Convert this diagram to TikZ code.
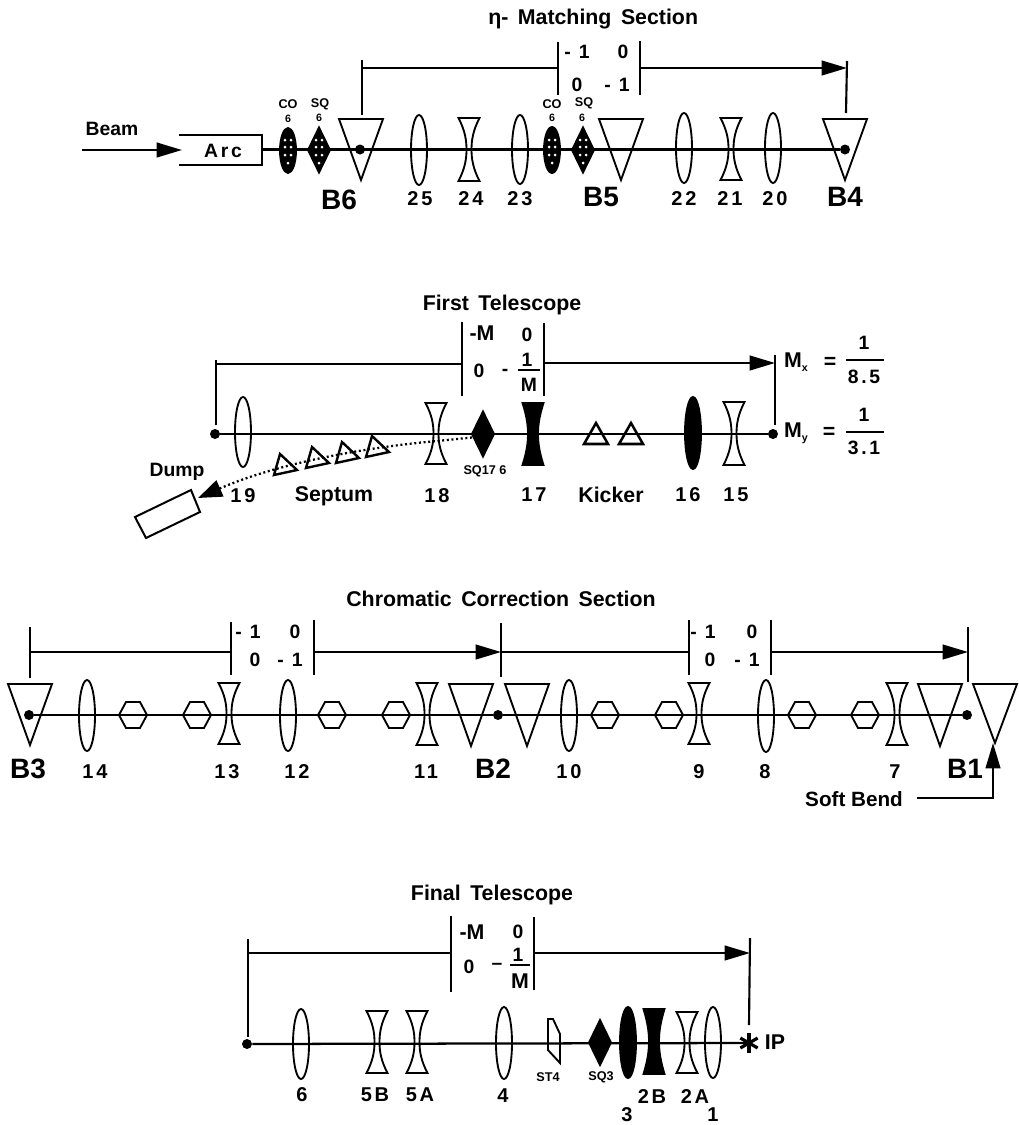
\documentclass[tikz,border=0pt]{standalone}
\usepackage{fontspec}
\setmainfont{Liberation Sans}
\newfontfamily\spfont[LetterSpace=14]{Liberation Sans}
\usetikzlibrary{arrows.meta,shapes.geometric}
\tikzset{
  line/.style={line width=1.4pt,line join=miter},
  beamline/.style={line width=1.7pt},
  bracket/.style={line width=1.6pt},
  arrowline/.style={line width=1.6pt,-{Triangle[length=19pt,width=11pt]}},
  txt/.style={font=\bfseries\fontsize{14.5}{16}\selectfont,inner sep=0pt,text=black},
  ttl/.style={font=\bfseries\fontsize{16}{18}\selectfont,inner sep=0pt,text=black},
  num/.style={font=\spfont\bfseries\fontsize{15}{16}\selectfont,inner sep=0pt},
  mat/.style={font=\spfont\bfseries\fontsize{14.5}{16}\selectfont,inner sep=0pt},
  big/.style={font=\bfseries\fontsize{21}{23}\selectfont,inner sep=0pt},
  small/.style={font=\bfseries\fontsize{9.5}{10}\selectfont,inner sep=0pt},
  tiny/.style={font=\bfseries\fontsize{8}{9}\selectfont,inner sep=0pt},
  lensopen/.style={ellipse,draw,line width=1.4pt,inner sep=0pt,minimum width=12pt},
  lensfull/.style={ellipse,draw,fill=black,line width=1.4pt,inner sep=0pt,minimum width=12pt},
  dotnode/.style={circle,fill=black,inner sep=0pt,minimum size=7.5pt},
  dotted path/.style={line width=1.7pt,dash pattern=on 1.5pt off 2pt},
}
% px geometry: y grows downward
\newcommand{\LensO}[4]{\node[lensopen,minimum height=#4*0.75pt] (#1) at (#2,#3) {};}
\newcommand{\LensF}[4]{\node[lensfull,minimum height=#4*0.75pt] (#1) at (#2,#3) {};}
\newcommand{\Hour}[6]{% name,x,y,halfheight,drawopts,waist
  \begin{scope}[shift={(#2,#3)}]
    \coordinate (#1) at (0,0);
    \draw[line,#5] (-10.5,-#4) -- (10.5,-#4) .. controls (#6+1.5,-#4*0.6) and (#6,-#4*0.3) .. (#6,0)
      .. controls (#6,#4*0.3) and (#6+1.5,#4*0.6) .. (10.5,#4) -- (-10.5,#4)
      .. controls (-#6-1.5,#4*0.6) and (-#6,#4*0.3) .. (-#6,0)
      .. controls (-#6,-#4*0.3) and (-#6-1.5,-#4*0.6) .. cycle;
  \end{scope}}
\newcommand{\Bend}[4]{% name,x,top,apex
  \coordinate (#1) at (#2,#3);
  \draw[line] (#2-22,#3) -- (#2+22,#3) -- (#2,#4) -- cycle;}
\newcommand{\Dia}[4]{% name,x,y,drawopts
  \begin{scope}[shift={(#2,#3)}]
    \coordinate (#1) at (0,0);
    \draw[line,#4] (-11,0) -- (0,-22.5) -- (11,0) -- (0,22.5) -- cycle;
  \end{scope}}
\newcommand{\Hex}[3]{% name,x,y
  \begin{scope}[shift={(#2,#3)}]
    \coordinate (#1) at (0,0);
    \draw[line] (-14,0) -- (-7,-13) -- (7,-13) -- (14,0) -- (7,13) -- (-7,13) -- cycle;
  \end{scope}}
\newcommand{\WDots}[2]{% white dots across a sextupole
  \foreach \dx/\dy in {-3/-10,3/-10,-3/-3,3/-3,-3/5,3/5,0/13}
    {\fill[white] (#1+\dx,#2+\dy) circle[radius=1.5];}}
\newcommand{\Tri}[3]{% septum triangle
  \begin{scope}[shift={(#2,#3)}]
    \coordinate (#1) at (0,0);
    \draw[line,line width=1.8pt] (-11,10) -- (12,5) -- (-5,-11) -- cycle;
  \end{scope}}
\newcommand{\Kick}[3]{%
  \coordinate (#1) at (#2,#3);
  \draw[line,line width=1.9pt] (#2-12,#3+10) -- (#2+12,#3+10) -- (#2,#3-11) -- cycle;}
\begin{document}
\begin{tikzpicture}[x=0.75pt,y=-0.75pt]
\useasboundingbox (0,0) rectangle (1018,1125);

%%% Section 1
\node[ttl,anchor=west] (t1) at (488,19) {η- \,Matching \,Section};
\node[txt] (beamlab) at (112,129) {Beam};
\coordinate (bs) at (82,150);
\coordinate (arcTip) at (182,150);
\draw[arrowline] (bs) -- (arcTip);
\coordinate (arcTL) at (179,135);
\coordinate (arcTR) at (262,135);
\coordinate (arcBR) at (262,165);
\coordinate (arcBL) at (179,165);
\coordinate (arcE) at (262,149.5);
\draw[line,line width=1.5pt] (arcTL) -- (arcTR) -- (arcBR) -- (arcBL);
\node[mat] (arc) at (223,151) {Arc};
\node[dotnode] (b6d) at (360,149.5) {};
\node[dotnode] (b4d) at (845,149.5) {};
\draw[beamline] (arcE) -- (b4d);
\Bend{b6}{361}{119}{180}
\Bend{b5}{621}{119}{180}
\Bend{b4}{845}{119}{180}
\LensF{co1}{288}{150.5}{45}
\WDots{288}{150}
\Dia{sq1}{319}{150}{fill=black}
\WDots{319}{150}
\LensF{co2}{552}{150}{46}
\WDots{552}{150}
\Dia{sq2}{583}{150}{fill=black}
\WDots{583}{150}
\LensO{q25}{419}{150}{70}
\Hour{q24}{469}{149.5}{31.5}{}{2.5}
\LensO{q23}{520}{149.5}{69}
\LensO{q22}{684}{148}{70}
\Hour{q21}{731}{149}{31}{}{2.5}
\LensO{q20}{773}{148}{70}
\node[small] (co1t) at (288,104) {CO};
\node[tiny] (co1n) at (288,119) {6};
\node[small] (sq1t) at (320,104) {SQ};
\node[tiny] (sq1n) at (319,118) {6};
\node[small] (co2t) at (552,104) {CO};
\node[tiny] (co2n) at (552,118) {6};
\node[small] (sq2t) at (584,103) {SQ};
\node[tiny] (sq2n) at (582,118) {6};
\coordinate (a1) at (362,115);
\coordinate (a2) at (362,60);
\coordinate (a2m) at (362,68);
\coordinate (a3) at (558,68);
\draw[bracket] (a1) -- (a2);
\draw[bracket] (a2m) -- (a3);
\coordinate (a4) at (558,42);
\coordinate (a5) at (558,95);
\coordinate (a6) at (640,41);
\coordinate (a7) at (640,95);
\draw[bracket] (a4) -- (a5);
\draw[bracket] (a6) -- (a7);
\coordinate (a8) at (640,68);
\coordinate (a9) at (847,68);
\coordinate (a10) at (847,61);
\coordinate (a11) at (846,113);
\draw[arrowline] (a8) -- (a9);
\draw[bracket] (a10) -- (a11);
\node[mat] at (577,52) {- 1};
\node[mat] at (623,52) {0};
\node[mat] at (577,85) {0};
\node[mat] at (617,85) {- 1};
\node[big] at (339,200) {B6};
\node[big] at (601,197) {B5};
\node[big] at (845,197) {B4};
\node[num] at (420,199) {25};
\node[num] at (471,199) {24};
\node[num] at (520,199) {23};
\node[num] at (684,199) {22};
\node[num] at (730,199) {21};
\node[num] at (775,199) {20};

%%% Section 2
\node[ttl] (t2) at (502,305) {First \,Telescope};
\node[dotnode] (d2L) at (215,434) {};
\node[dotnode] (d2R) at (773,434) {};
\draw[beamline] (d2L) -- (d2R);
\LensO{q19}{243}{432}{70}
\Hour{q18}{436}{433.5}{30.5}{}{2.5}
\Dia{sq176}{483}{434}{fill=black}
\Hour{q17}{533}{434}{31}{fill=black}{5}
\Kick{k1}{596}{434}
\Kick{k2}{631}{434}
\LensF{q16}{693}{433}{72}
\Hour{q15}{734}{433.5}{31.5}{}{2.5}
\Tri{s1}{285}{465}
\Tri{s2}{317}{458}
\Tri{s3}{347}{453}
\Tri{s4}{377}{447}
\coordinate (dStart) at (472,437.5);
\coordinate (dMid) at (437,441);
\coordinate (dTip) at (198,498);
\draw[dotted path,-{Triangle[length=18pt,width=13pt]}] (dStart) -- (dMid) .. controls (380,446) and (285,460) .. (dTip);
\coordinate (du1) at (135,517);
\coordinate (du2) at (191,490);
\coordinate (du3) at (200,512);
\coordinate (du4) at (146,538);
\draw[line,line width=1.5pt] (du1) -- (du2) -- (du3) -- (du4) -- cycle;
\coordinate (b1) at (216,425);
\coordinate (b2) at (216,360);
\coordinate (b2m) at (216,364);
\coordinate (b3) at (462,364);
\draw[bracket] (b1) -- (b2);
\draw[bracket] (b2m) -- (b3);
\coordinate (b4) at (462,322);
\coordinate (b5) at (462,396);
\coordinate (b6x) at (544,323);
\coordinate (b7) at (544,396);
\draw[bracket] (b4) -- (b5);
\draw[bracket] (b6x) -- (b7);
\coordinate (b8) at (544,363);
\coordinate (b9) at (775,363);
\coordinate (b10) at (775,355);
\coordinate (b11) at (775,425);
\draw[arrowline] (b8) -- (b9);
\draw[bracket] (b10) -- (b11);
\node[ttl] at (482,333) {-M};
\node[txt] at (527,335) {0};
\node[txt] at (479,371) {0};
\node[txt] at (505,372) {-};
\node[txt] (f1n) at (527,360) {1};
\coordinate (f1a) at (518,370);
\coordinate (f1b) at (540,370);
\draw[line,line width=1.2pt] (f1a) -- (f1b);
\node[txt] (f1d) at (529,385) {M};
\node[ttl] at (796,362) {M\raisebox{-3pt}{\fontsize{8}{9}\selectfont x}};
\node[ttl] at (830,363) {=};
\node[txt] at (864,343) {1};
\coordinate (f2a) at (846,360);
\coordinate (f2b) at (884,360);
\draw[line,line width=1.2pt] (f2a) -- (f2b);
\node[mat] at (864,377) {8.5};
\node[ttl] at (796,433) {M\raisebox{-3pt}{\fontsize{8}{9}\selectfont y}};
\node[ttl] at (829,433) {=};
\node[txt] at (864,415) {1};
\coordinate (f3a) at (846,432);
\coordinate (f3b) at (884,432);
\draw[line,line width=1.2pt] (f3a) -- (f3b);
\node[mat] at (864,448) {3.1};
\node[txt] at (177,472) {Dump};
\node[num] at (243,496) {19};
\node[ttl] at (334,496) {Septum};
\node[num] at (437,496) {18};
\node[small] at (485,471) {SQ17 6};
\node[num] at (534,495) {17};
\node[ttl] at (611,495) {Kicker};
\node[num] at (688,495) {16};
\node[num] at (736,495) {15};

%%% Section 3
\node[ttl] (t3) at (501,599) {Chromatic \,Correction \,Section};
\node[dotnode] (d3L) at (29,715) {};
\node[dotnode] (d3M) at (498,715) {};
\node[dotnode] (d3R) at (967,715) {};
\draw[beamline] (d3L) -- (d3M);
\draw[beamline] (d3M) -- (d3R);
\Bend{b3}{30}{684}{745}
\Bend{b3r}{471}{684}{746}
\Bend{b2l}{527}{684}{746}
\Bend{b1l}{940}{684}{746}
\Bend{soft}{995}{684}{743}
\LensO{q14}{87}{715.5}{71}
\LensO{q12}{288}{715.5}{71}
\LensO{q10}{569}{715.5}{71}
\LensO{q8}{766}{716}{72}
\Hour{q13}{229}{713.5}{30.5}{}{2.5}
\Hour{q11}{427}{714}{31}{}{2.5}
\Hour{q9}{699}{713.5}{30.5}{}{2.5}
\Hour{q7}{897}{714}{31}{}{2.5}
\Hex{h1}{133}{715}
\Hex{h2}{197}{715}
\Hex{h3}{332}{715}
\Hex{h4}{396}{715}
\Hex{h5}{605}{715}
\Hex{h6}{669}{715}
\Hex{h7}{802}{715}
\Hex{h8}{865}{715}
\coordinate (c1) at (30,627);
\coordinate (c2) at (30,678);
\coordinate (c2m) at (30,652);
\coordinate (c3) at (231,652);
\draw[bracket] (c1) -- (c2);
\draw[bracket] (c2m) -- (c3);
\coordinate (c4) at (231,622);
\coordinate (c5) at (231,675);
\coordinate (c6) at (314,620);
\coordinate (c7) at (314,675);
\draw[bracket] (c4) -- (c5);
\draw[bracket] (c6) -- (c7);
\coordinate (c8) at (314,652);
\coordinate (c9) at (501,652);
\draw[arrowline] (c8) -- (c9);
\coordinate (c10) at (501,623);
\coordinate (c11) at (501,677);
\draw[bracket] (c10) -- (c11);
\coordinate (c12) at (689,652);
\draw[bracket] (c9) -- (c12);
\coordinate (c13) at (689,620);
\coordinate (c14) at (689,675);
\coordinate (c15) at (771,620);
\coordinate (c16) at (771,675);
\draw[bracket] (c13) -- (c14);
\draw[bracket] (c15) -- (c16);
\coordinate (c17) at (771,652);
\coordinate (c18) at (968,652);
\draw[arrowline] (c17) -- (c18);
\coordinate (c19) at (968,627);
\coordinate (c20) at (968,682);
\draw[bracket] (c19) -- (c20);
\coordinate (sb1) at (917,798);
\coordinate (sb2) at (993,798);
\coordinate (sb3) at (993,743);
\draw[line width=1.6pt,-{Triangle[length=19pt,width=11pt]}] (sb1) -- (sb2) -- (sb3);
\node[ttl,font=\bfseries\fontsize{15.5}{17}\selectfont] at (854,799) {Soft Bend};
\node[mat] at (248,632) {- 1};
\node[mat] at (295,632) {0};
\node[mat] at (255,660) {0};
\node[mat] at (290,660) {- 1};
\node[mat] at (703,632) {- 1};
\node[mat] at (752,632) {0};
\node[mat] at (710,660) {0};
\node[mat] at (747,660) {- 1};
\node[big] at (28,769) {B3};
\node[big] at (493,769) {B2};
\node[big] at (965,769) {B1};
\node[num] at (95,772) {14};
\node[num] at (227,772) {13};
\node[num] at (297,772) {12};
\node[num] at (426,772) {11};
\node[num] at (569,772) {10};
\node[num] at (699,772) {9};
\node[num] at (765,772) {8};
\node[num] at (895,772) {7};

%%% Section 4
\node[ttl] (t4) at (492,895) {Final \,Telescope};
\node[dotnode] (d4L) at (247,1044) {};
\coordinate (ip) at (749,1043);
\draw[beamline] (d4L) -- (ip);
\foreach \ang in {90,30,150}
  {\draw[line width=2.4pt] ([shift={(\ang:10)}]ip) -- ([shift={(\ang+180:10)}]ip);}
\LensO{q6}{301}{1044}{70}
\Hour{q5b}{377}{1042}{31}{}{2.5}
\Hour{q5a}{417}{1042}{31}{}{2.5}
\LensO{q4}{504}{1043}{72}
\coordinate (st1) at (548,1019);
\coordinate (st2) at (553,1019);
\coordinate (st3) at (560,1034);
\coordinate (st4) at (560,1063);
\coordinate (st5) at (548,1050);
\draw[line] (st1) -- (st2) -- (st3) -- (st4) -- (st5) -- cycle;
\Dia{sq3}{600}{1042.5}{fill=black}
\LensF{q3}{628}{1042.5}{71}
\Hour{q2b}{654}{1041.5}{32.5}{fill=black}{5}
\Hour{q2a}{687}{1042.5}{30.5}{}{2.5}
\LensO{q1}{713}{1042.5}{71}
\node[ttl] at (775,1042) {IP};
\coordinate (e1) at (248,1037);
\coordinate (e2) at (248,939);
\coordinate (e2m) at (248,953);
\coordinate (e3) at (451,953);
\draw[bracket] (e1) -- (e2);
\draw[bracket] (e2m) -- (e3);
\coordinate (e4) at (451,916);
\coordinate (e5) at (451,992);
\coordinate (e6) at (534,917);
\coordinate (e7) at (534,990);
\draw[bracket] (e4) -- (e5);
\draw[bracket] (e6) -- (e7);
\coordinate (e8) at (534,953);
\coordinate (e9) at (750,953);
\draw[arrowline] (e8) -- (e9);
\coordinate (e10) at (750,938);
\coordinate (e11) at (749,1025);
\draw[bracket] (e10) -- (e11);
\node[ttl] at (472,932) {-M};
\node[txt] at (518,932) {0};
\node[txt] at (469,967) {0};
\node[txt] at (497,966) {--};
\node[txt] at (518,955) {1};
\coordinate (f4a) at (510,965);
\coordinate (f4b) at (530,965);
\draw[line,line width=1.2pt] (f4a) -- (f4b);
\node[ttl] at (520,981) {M};
\node[num] at (302,1095) {6};
\node[num] at (375,1095) {5B};
\node[num] at (420,1095) {5A};
\node[num] at (503,1096) {4};
\node[small] at (548,1077) {ST4};
\node[small] at (601,1077) {SQ3};
\node[num] at (652,1097) {2B};
\node[num] at (695,1097) {2A};
\node[num] at (627,1115) {3};
\node[num] at (713,1115) {1};
\end{tikzpicture}
\end{document}
